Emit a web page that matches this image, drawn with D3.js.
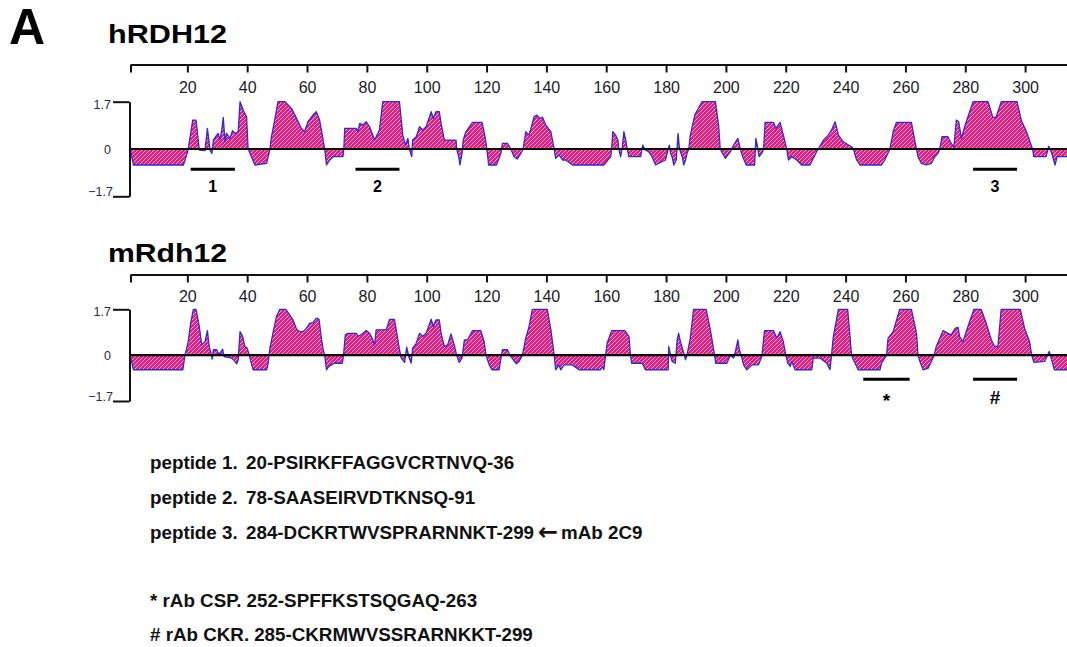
<!DOCTYPE html>
<html>
<head>
<meta charset="utf-8">
<script src="https://cdn.jsdelivr.net/npm/d3@7"></script>
<style>
  body { margin: 0; background: #fff; }
  svg { display: block; font-family: 'Liberation Sans', Arial, sans-serif; }
</style>
</head>
<body>
<div id="chart"></div>
<script>
// residue ticks on the top ruler (1 is an unlabeled start tick)
const tickVals = [1, 20, 40, 60, 80, 100, 120, 140, 160, 180, 200, 220, 240, 260, 280, 300];
const yTicks = [-1.7, 0, 1.7];
const titles = ['hRDH12', 'mRdh12'];

// hRDH12 hydrophilicity profile (residue, value)
const hPos = [1, 2, 18.7, 19.5, 20.3, 21.8, 22.9, 24, 25.9, 26.7, 27.6, 28.2, 28.7, 29.8, 30.3, 30.9, 31.5, 32, 32.6, 33.1,
  34.2, 35.1, 36, 37, 37.6, 38.9, 39.8, 40.3, 41.4, 42.6, 46.5, 47.6, 48.1, 49.2, 50.3, 52.6, 54.8, 56.5, 58.1, 59.2,
  60.3, 62, 63.1, 64.2, 65.1, 65.9, 66.5, 67.6, 68.7, 72, 72.3, 72.6, 76.5, 77, 77.6, 78.7, 79.8, 80.9, 82.6, 84.2,
  85.3, 90.9, 92, 92.9, 93.7, 94.2, 95, 95.3, 96.5, 97.6, 98.7, 99.8, 101.5, 102.2, 103.1, 104.2, 104.8, 105.9, 109.8, 110,
  110.7, 111.1, 111.8, 112.2, 113.1, 115.3, 118.5, 119.6, 120.1, 120.7, 123.3, 124.8, 125.3, 127, 128.1, 129.2, 130.3, 131.5, 132.2, 133.1,
  134.2, 135.9, 136.7, 137.8, 138.7, 139.8, 141.5, 142.6, 143.1, 144.2, 145.4, 146.5, 148.7, 159.2, 161.5, 161.8, 162.2, 163.1, 163.9, 164.2,
  164.8, 165.3, 165.9, 166.5, 167, 167.6, 171.5, 172.2, 173.1, 174.2, 175.3, 176.5, 179.8, 180.7, 181.1, 181.5, 182, 182.6, 183.4, 184,
  184.5, 185.4, 185.9, 186.5, 187, 187.6, 188.1, 189.6, 192, 196.5, 197.6, 198.1, 199.8, 201.5, 202.6, 204, 204.8, 205.6, 206.8, 209.6,
  210, 210.7, 211.1, 212, 212.6, 213.1, 215.9, 216.7, 218.1, 219.2, 220.3, 220.9, 222, 223.7, 225.3, 228.1, 230.3, 230.9, 232.6, 234.2,
  235.3, 236.5, 237.6, 239.2, 242, 242.6, 243.7, 244.8, 252, 253.1, 254.8, 255.9, 257, 262, 263.1, 263.7, 264.2, 265.3, 267, 268.7,
  269.8, 270.9, 271.5, 272.2, 274.2, 275.3, 276.2, 277, 277.8, 278.7, 279.8, 280.9, 282.6, 287.6, 289.2, 290.3, 292, 297.3, 298.7, 300.9,
  302, 302.5, 302.9, 307, 307.9, 308.7, 309.2, 310, 310.7, 311.5, 314];
const hVal = [-0.05, -0.575, -0.575, -0.3, 0, 1.04, 1.04, -0.04, -0.06, 0.74, -0.04, -0.16, 0.32, 0.5, 0.56, 0.32, 0.68, 1.14, 0.26, 0.56,
  0.38, 0.66, 0.56, 0.62, 1.7, 1.34, 1.16, 0.02, -0.28, -0.575, -0.515, 0, 0.44, 1.04, 1.7, 1.7, 1.46, 1.1, 0.74, 0.62,
  0.98, 1.22, 1.34, 1.04, 0.5, 0, -0.575, -0.395, -0.276, -0.276, 0, 0.74, 0.74, 0.62, 0.92, 0.86, 0.98, 0.8, 0.32, 0.68,
  1.7, 1.7, 0.5, 0.14, 0.38, 0, -0.276, 0.32, 0.44, 0.8, 0.68, 0.8, 1.34, 1.1, 1.34, 1.34, 0.92, 0.32, 0.32, 0,
  -0.276, -0.575, -0.156, 0.32, 0.62, 0.96, 0.96, 0.38, 0, -0.575, -0.575, -0.156, 0.2, 0.2, 0, -0.276, -0.36, -0.156, 0, 0.62,
  0.5, 1.16, 1.22, 1.1, 1.14, 0.86, 0.62, 0, -0.335, -0.215, -0.395, -0.395, -0.575, -0.575, -0.276, 0, 0.62, 0.5, 0.32, 0,
  -0.276, 0, 0.62, 0.32, 0, -0.276, -0.276, 0.14, -0.04, -0.1, -0.276, -0.575, -0.395, 0, 0.14, -0.156, -0.276, -0.575, -0.395, 0.56,
  0, -0.276, -0.575, -0.395, -0.156, 0, 0.5, 1.22, 1.7, 1.7, 0.8, 0, -0.335, -0.096, 0.14, 0.38, 0, -0.276, -0.575, -0.575,
  0.38, 0, -0.276, -0.156, 0, 0.96, 0.96, 0.74, 0.96, 0.5, 0, -0.395, -0.276, -0.395, -0.575, -0.575, -0.096, 0, 0.32, 0.5,
  0.68, 0.98, 0.5, 0.26, 0.08, 0, -0.395, -0.575, -0.575, -0.395, 0, 0.62, 0.96, 0.96, 0.32, 0, -0.276, -0.515, -0.575, -0.515,
  -0.276, -0.156, 0, 0.44, 0.44, 0.2, 0.08, 1.04, 0.98, 0.38, 0.8, 1.16, 1.7, 1.7, 1.14, 1.14, 1.7, 1.7, 1.04, 0.5,
  0.14, 0, -0.276, -0.276, 0.1, -0.096, -0.276, -0.575, -0.276, -0.276, -0.276];

// mRdh12 profile
const mPos = [1, 2, 18.5, 19.2, 20.3, 21.1, 22, 22.9, 24, 24.8, 25.9, 26.7, 27.3, 27.9, 28.3, 28.7, 29.8, 30.3, 30.9, 31.8,
  32.2, 33.1, 34.8, 35.9, 36.5, 37, 37.6, 38.5, 39.2, 40, 40.7, 41.5, 42, 46.5, 47, 47.6, 48.7, 49.8, 50.9, 52.9,
  54.2, 55.3, 56.5, 57.6, 58.7, 59.8, 60.9, 62, 63.1, 64, 64.8, 65.3, 65.9, 66.5, 67.3, 68.1, 69.2, 71.8, 72.2, 72.8,
  73.7, 76.5, 77.1, 78.7, 79.8, 80.9, 82, 82.6, 83.1, 86.5, 87.6, 89.2, 90, 90.9, 91.5, 92.6, 93.3, 94, 94.8, 95.3,
  96.5, 97.6, 98.7, 99.8, 101.5, 102.2, 103.1, 104.2, 104.8, 105.9, 107, 108.1, 109.2, 110, 110.9, 111.8, 112.6, 113.7, 115.3, 118.1,
  119.2, 119.8, 120.9, 121.8, 124.2, 125.3, 127, 127.8, 128.9, 130, 130.9, 132, 133.1, 134.2, 135.3, 140.3, 141.5, 142.6, 143.1, 144.2,
  144.8, 145.9, 148.7, 150.9, 158.1, 158.7, 159.2, 159.8, 160.3, 161.8, 166.2, 167.6, 168.1, 168.5, 172, 173.1, 180.7, 180.9, 181.5, 182,
  183.1, 183.7, 184.2, 184.8, 185.6, 186.5, 187, 188.1, 189.2, 193.4, 194.8, 196.2, 196.6, 200.3, 201.5, 202.6, 203.3, 204, 204.5, 205.1,
  205.9, 207, 208.7, 210.9, 212, 212.9, 215.9, 217, 218.1, 219.2, 220, 220.7, 221.5, 222, 223.1, 228.7, 229.2, 231.5, 233.7, 234.8,
  235.3, 235.9, 237.6, 240.7, 242, 242.6, 244.2, 251.5, 252, 253.7, 254.2, 255.9, 258.1, 262, 263.7, 264.2, 264.8, 265.9, 267.6, 268.7,
  269.6, 270.3, 272.6, 274.2, 275.3, 276.7, 277.6, 278.1, 279.2, 280.9, 282.9, 285.3, 287, 288.7, 289.8, 290.9, 292, 298.4, 299.8, 301.5,
  302.2, 302.9, 306.5, 308.1, 308.7, 309.8, 314];
const mVal = [-0.1, -0.542, -0.542, 0, 0.5, 1.18, 1.7, 1.7, 1.06, 0.38, 0.5, 0.91, 0.32, 0.07, -0.15, 0.2, 0.2, 0.07, 0.07, 0.22,
  -0.05, -0.07, -0.11, -0.23, -0.32, -0.17, 0.87, 0.69, 0.32, 0.26, 0, -0.36, -0.542, -0.542, -0.3, 0.26, 0.87, 1.43, 1.7, 1.7,
  1.49, 1.31, 0.96, 0.87, 0.87, 1.0, 1.18, 1.21, 1.37, 1.33, 0.63, 0.26, 0, -0.542, -0.42, -0.36, -0.3, -0.3, 0, 0.75,
  0.81, 0.81, 0.69, 0.81, 0.91, 0.81, 0.57, 0.38, 0.94, 0.94, 1.33, 1.33, 0.81, 0.2, -0.11, -0.27, 0.3, -0.05, -0.3, 0.26,
  0.44, 0.81, 0.69, 0.81, 1.33, 1.06, 1.31, 1.31, 0.81, 0.32, 0.38, 0.79, 0.38, 0, -0.27, -0.11, 0.57, 0.57, 0.91, 0.91,
  0.5, 0, -0.36, -0.542, -0.542, 0.2, 0.2, 0, -0.17, -0.32, -0.23, 0, 0.63, 1.06, 1.7, 1.7, 0.94, 0, -0.542, -0.36,
  -0.542, -0.36, -0.36, -0.542, -0.542, -0.42, -0.542, 0, 0.44, 0.91, 0.91, 0.69, 0, -0.3, -0.3, -0.542, -0.542, 0.32, 0, -0.23,
  -0.3, 0.57, 0.81, 0.5, 0.2, -0.17, 0, 0.63, 1.7, 1.7, 0.94, 0, -0.3, -0.3, 0, -0.11, 0.2, 0.57, 0.2, 0,
  -0.36, -0.542, -0.36, -0.36, -0.05, 0.91, 0.91, 0.63, 0.87, 0.5, 0, -0.3, -0.42, -0.23, -0.542, -0.542, -0.11, -0.11, -0.3, -0.542,
  0, 0.69, 1.7, 1.7, 0, -0.17, -0.542, -0.542, -0.3, 0, 0.63, 0.87, 1.7, 1.7, 0.81, 0, -0.23, -0.542, -0.48, -0.23,
  0, 0.32, 0.91, 0.81, 0.75, 1.0, 1.03, 0.69, 0.5, 1.06, 1.7, 1.7, 1.18, 0.57, 0.32, 0.32, 1.7, 1.7, 1.0, 0.5,
  0, -0.27, -0.23, 0.14, -0.11, -0.542, -0.542];

// peptide / antibody epitope bars (residue start, end) and their labels
const hBars = [[21.1, 35.9], [76.2, 90.9], [282.6, 297.3]];
const hBarLabels = ['1', '2', '3'];
const mBars = [[245.9, 261.4], [282.6, 297.3]];
const mBarLabels = ['*', '#'];

// notes below the plots: [label, sequence]
const noteLabels = ['peptide 1.', 'peptide 2.', 'peptide 3.', '* rAb CSP.', '# rAb CKR.'];
const noteSeqs = ['20-PSIRKFFAGGVCRTNVQ-36', '78-SAASEIRVDTKNSQ-91', '284-DCKRTWVSPRARNNKT-299',
  '252-SPFFKSTSQGAQ-263', '285-CKRMWVSSRARNKKT-299'];

const W = 1067;
const H = 647;
const pink = '#ee1a80';
const blue = '#2b2bdc';

const svg = d3.select('#chart')
  .append('svg')
  .attr('width', W)
  .attr('height', H);

svg.append('rect').attr('width', W).attr('height', H).attr('fill', '#fff');

// hatch pattern: pink with thin white "/" lines
const pat = svg.append('defs').append('pattern')
  .attr('id', 'hatch')
  .attr('patternUnits', 'userSpaceOnUse')
  .attr('width', 4)
  .attr('height', 4);
pat.append('rect').attr('width', 4).attr('height', 4).attr('fill', pink);
pat.append('path')
  .attr('d', 'M-1,1 l2,-2 M0,4 l4,-4 M3,5 l2,-2')
  .attr('stroke', '#fff')
  .attr('stroke-width', 0.8)
  .attr('stroke-opacity', 0.85);

const x = d3.scaleLinear().domain([1, 314]).range([130.5, W]);

svg.append('text')
  .attr('x', 9)
  .attr('y', 43.5)
  .attr('font-size', 50)
  .attr('font-weight', 'bold')
  .text('A');

const panels = [
  { top: 64.5, yTop: 101.7, yBot: 196.3, titleY: 43.3, barY: 169.3, barLabelY: 191.5, labelPad: 9.5 },
  { top: 274.5, yTop: 309.3, yBot: 401, titleY: 261.7, barY: 379.3, barLabelY: 403.5, labelPad: 8.5 },
];

const renderPanel = (cfg, title, pos, val, bars, barLabels) => {
  const y = d3.scaleLinear().domain([-1.7, 1.7]).range([cfg.yBot, cfg.yTop]);
  const data = pos.map((p, i) => [p, val[i]]);

  svg.append('text')
    .attr('x', 108)
    .attr('y', cfg.titleY)
    .attr('font-size', 25.5)
    .attr('font-weight', 'bold')
    .attr('textLength', 119)
    .attr('lengthAdjust', 'spacingAndGlyphs')
    .text(title);

  // top residue ruler
  const ax = svg.append('g')
    .attr('transform', `translate(0,${cfg.top})`)
    .call(d3.axisBottom(x)
      .tickValues(tickVals)
      .tickSize(8)
      .tickSizeOuter(0)
      .tickPadding(cfg.labelPad)
      .tickFormat((d) => (d === 1 ? '' : d)));
  ax.select('.domain').attr('stroke', '#111').attr('stroke-width', 2);
  ax.selectAll('.tick line').attr('stroke', '#111').attr('stroke-width', 2);
  ax.selectAll('.tick text')
    .attr('font-size', 16)
    .attr('font-family', "'Liberation Sans', Arial, sans-serif")
    .attr('fill', '#1c1c28');

  // profile fill and outline
  svg.append('path')
    .datum(data)
    .attr('d', d3.area().x((d) => x(d[0])).y0(y(0)).y1((d) => y(d[1])))
    .attr('fill', 'url(#hatch)');
  svg.append('path')
    .datum(data)
    .attr('d', d3.line().x((d) => x(d[0])).y((d) => y(d[1])))
    .attr('fill', 'none')
    .attr('stroke', blue)
    .attr('stroke-width', 1.3)
    .attr('stroke-linejoin', 'round');

  // zero line
  svg.append('line')
    .attr('x1', 130)
    .attr('x2', W)
    .attr('y1', y(0))
    .attr('y2', y(0))
    .attr('stroke', '#000')
    .attr('stroke-width', 2.2);

  // left bracket axis
  const ay = svg.append('g')
    .attr('transform', 'translate(129.5,0)')
    .call(d3.axisLeft(y)
      .tickValues(yTicks)
      .tickSize(16.5)
      .tickSizeOuter(0)
      .tickPadding(2)
      .tickFormat((d) => (d === 0 ? '0' : d3.format('.1f')(d))));
  ay.select('.domain').attr('stroke', '#111').attr('stroke-width', 2);
  ay.selectAll('.tick line').attr('stroke', '#111').attr('stroke-width', 2);
  ay.selectAll('.tick').filter((d) => d === 0).select('line').remove();
  ay.selectAll('.tick text')
    .attr('font-size', 12.5)
    .attr('font-family', "'Liberation Sans', Arial, sans-serif")
    .attr('fill', '#2a2a3c')
    .attr('dy', (d) => {
      if (d > 0) return 6.5;
      if (d < 0) return -1;
      return 4;
    })
    .attr('dx', (d) => (d < 0 ? 2 : 0));

  // epitope bars
  svg.selectAll(null)
    .data(bars)
    .enter()
    .append('line')
    .attr('x1', (d) => x(d[0]))
    .attr('x2', (d) => x(d[1]))
    .attr('y1', cfg.barY)
    .attr('y2', cfg.barY)
    .attr('stroke', '#000')
    .attr('stroke-width', 3);
  svg.selectAll(null)
    .data(bars)
    .enter()
    .append('text')
    .attr('x', (d) => x((d[0] + d[1]) / 2))
    .attr('y', (d, i) => cfg.barLabelY + (barLabels[i] === '*' ? 3 : 0))
    .attr('text-anchor', 'middle')
    .attr('font-size', (d, i) => (barLabels[i].match(/\d/) ? 16 : 19))
    .attr('font-weight', 'bold')
    .text((d, i) => barLabels[i]);
};

renderPanel(panels[0], titles[0], hPos, hVal, hBars, hBarLabels);
renderPanel(panels[1], titles[1], mPos, mVal, mBars, mBarLabels);

// notes
const noteY = [468.5, 503.5, 538.5, 607, 641];
noteLabels.forEach((lab, i) => {
  const t = svg.append('text')
    .attr('y', noteY[i])
    .attr('font-size', 18.8)
    .attr('font-weight', 'bold')
    .attr('fill', '#111');
  t.append('tspan').attr('x', 150).text(lab);
  if (i < 3) {
    t.append('tspan').attr('x', 246).text(noteSeqs[i]);
  } else {
    t.append('tspan').attr('dx', 5).text(noteSeqs[i]);
  }
  if (i === 2) {
    t.append('tspan').attr('x', 558).attr('text-anchor', 'end')
      .attr('font-family', "'DejaVu Sans', sans-serif")
      .attr('font-size', 24)
      .attr('dy', 1)
      .text('\u2190');
    t.append('tspan').attr('x', 561).attr('dy', -1).text('mAb 2C9');
  }
});
</script>
</body>
</html>
